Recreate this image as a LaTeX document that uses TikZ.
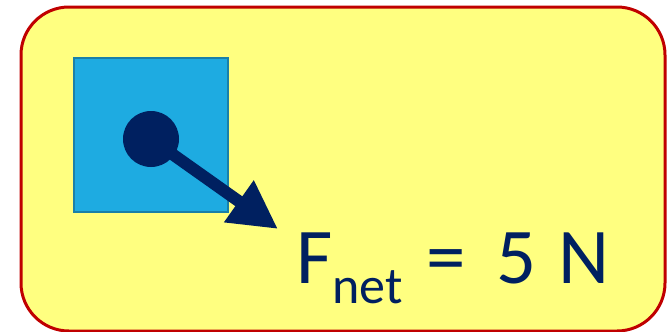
\documentclass[tikz,border=0pt]{standalone}
\usepackage{fontspec}
\setmainfont{Carlito}
\usetikzlibrary{arrows.meta}
\definecolor{boxyellow}{HTML}{FFFF80}
\definecolor{boxred}{HTML}{C00000}
\definecolor{cubeblue}{HTML}{1EABE1}
\definecolor{cubeedge}{HTML}{1A80A8}
\definecolor{forcenavy}{HTML}{002060}

\begin{document}
\begin{tikzpicture}[x=1pt,y=-1pt]
    \useasboundingbox (0,0) rectangle (670,332);
    % 背景框
    \draw[boxred,line width=3pt,fill=boxyellow,rounded corners=48pt] (21,7) rectangle (665,331);
    % 物块
    \draw[cubeedge,line width=2pt,fill=cubeblue] (74,58) rectangle (228,212);
    % 质点
    \node[circle,fill=forcenavy,minimum size=56pt,inner sep=0pt] (dot) at (151,139) {};
    % 合力箭头
    \coordinate (tip) at (278,229);
    \draw[-{Triangle[length=48pt,width=48pt]},line width=12pt,forcenavy] (dot.center) -- (tip);
    % 公式
    \node[anchor=base west,inner sep=0pt,text=forcenavy,font=\fontsize{79}{79}\selectfont] (fnet) at (296,283)
        {F\raisebox{-20pt}{\fontsize{52}{52}\selectfont net}\hspace{24pt}=\hspace{30pt}5\hspace{22pt}N};
\end{tikzpicture}
\end{document}
